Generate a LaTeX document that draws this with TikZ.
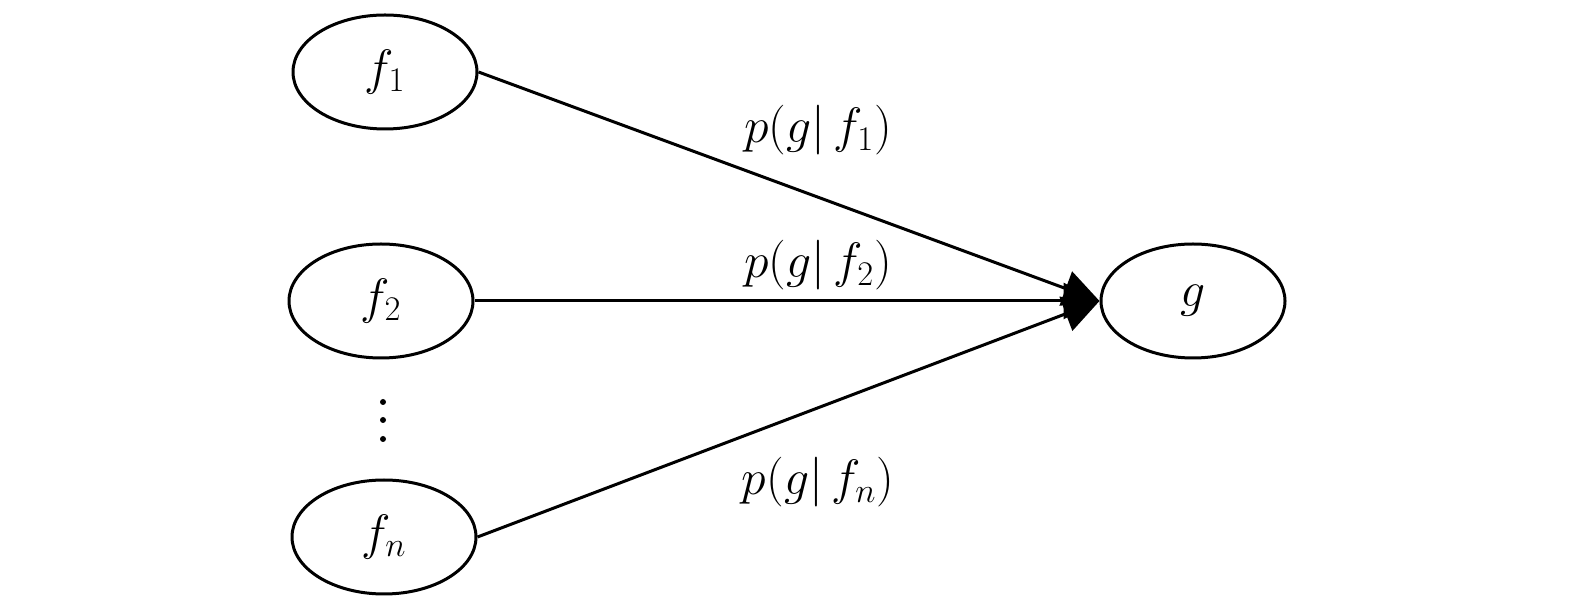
\documentclass[tikz,border=0pt]{standalone}
\usetikzlibrary{shapes.geometric,arrows.meta}
\begin{document}
\begin{tikzpicture}[x=0.5pt,y=-0.5pt,
  ell/.style={draw,ellipse,line width=1.5pt,minimum width=92pt,minimum height=57pt,inner sep=0pt,font=\fontsize{27pt}{30pt}\selectfont},
  conn/.style={line width=1.5pt,-{Triangle[length=18pt,width=18pt]}},
  lab/.style={anchor=base,inner sep=0pt,font=\fontsize{26pt}{30pt}\selectfont}]
\useasboundingbox (0,0) rectangle (1575,603);
\node[ell] (f1) at (385,72) {$f_1$};
\node[ell] (f2) at (381,301) {$f_2$};
\node[ell] (fn) at (384,537) {$f_n$};
\node[ell] (g) at (1193,301) {$g$};
\fill (383,402) circle (3) (383,420) circle (3) (383,439) circle (3);
\draw[conn] (f1.east) -- (g.west);
\draw[conn] (f2.east) -- (g.west);
\draw[conn] (fn.east) -- (g.west);
\node[lab] (l1) at (818,143) {$p(g|\,f_1)$};
\node[lab] (l2) at (818,278) {$p(g|\,f_2)$};
\node[lab] (l3) at (818,495) {$p(g|\,f_n)$};
\end{tikzpicture}
\end{document}
